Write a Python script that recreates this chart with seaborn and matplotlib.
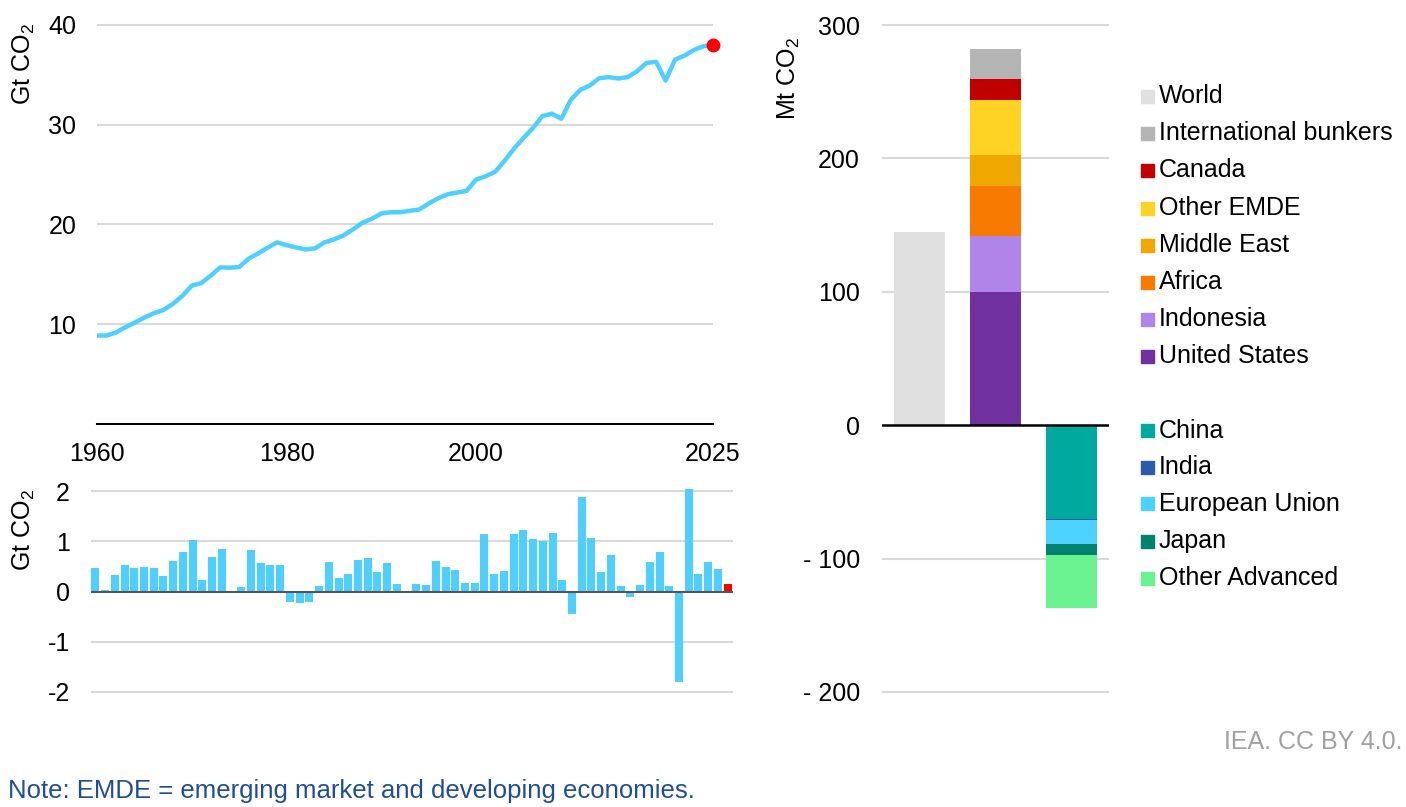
import matplotlib
matplotlib.use("Agg")
import matplotlib.pyplot as plt
import seaborn as sns
import pandas as pd
from matplotlib.patches import Rectangle

# ---------------- data ----------------
years = list(range(1960, 2026))
emissions = [8.87, 8.87, 9.17, 9.70, 10.17, 10.67, 11.10, 11.43, 12.03, 12.83,
             13.87, 14.13, 14.87, 15.70, 15.67, 15.73, 16.57, 17.10, 17.67, 18.20,
             17.93, 17.70, 17.50, 17.60, 18.20, 18.50, 18.90, 19.50, 20.17, 20.57,
             21.10, 21.23, 21.23, 21.37, 21.50, 22.10, 22.63, 23.03, 23.20, 23.37,
             24.50, 24.83, 25.27, 26.37, 27.60, 28.67, 29.67, 30.87, 31.10, 30.60,
             32.50, 33.50, 33.93, 34.67, 34.77, 34.63, 34.77, 35.37, 36.20, 36.30,
             34.43, 36.53, 36.93, 37.50, 37.87, 38.00]
changes = [0.47, 0.03, 0.33, 0.53, 0.46, 0.48, 0.47, 0.30, 0.61, 0.79,
           1.02, 0.23, 0.68, 0.84, -0.01, 0.08, 0.82, 0.56, 0.53, 0.53,
           -0.20, -0.23, -0.20, 0.11, 0.58, 0.27, 0.34, 0.63, 0.67, 0.38,
           0.57, 0.14, -0.01, 0.14, 0.13, 0.61, 0.48, 0.43, 0.16, 0.17,
           1.14, 0.35, 0.40, 1.14, 1.23, 1.04, 1.00, 1.16, 0.22, -0.44,
           1.88, 1.06, 0.38, 0.72, 0.11, -0.11, 0.13, 0.59, 0.79, 0.10,
           -1.80, 2.05, 0.34, 0.58, 0.44, 0.15]
x_tick_years = [1960, 1980, 2000, 2025]

world_change = 145
increase_regions = ["United States", "Indonesia", "Africa", "Middle East",
                    "Other EMDE", "Canada", "International bunkers"]
increase_values = [100, 42, 37.5, 23, 41.5, 15.25, 23]
decrease_regions = ["China", "India", "European Union", "Japan", "Other Advanced"]
decrease_values = [-70.3, -0.5, -18.5, -7.7, -40]
legend_order = ["World", "International bunkers", "Canada", "Other EMDE",
                "Middle East", "Africa", "Indonesia", "United States", None,
                "China", "India", "European Union", "Japan", "Other Advanced"]
right_ticks = [300, 200, 100, 0, -100, -200]
right_ticklabels = ["300", "200", "100", "0", "- 100", "- 200"]

colors = {
    "World": "#e0e0e0", "International bunkers": "#b4b4b4", "Canada": "#c00000",
    "Other EMDE": "#ffd324", "Middle East": "#f0a800", "Africa": "#f77b00",
    "Indonesia": "#b085ea", "United States": "#7030a0", "China": "#00a99d",
    "India": "#2a5caa", "European Union": "#4bd2ff", "Japan": "#00826f",
    "Other Advanced": "#6af290",
}
LINE = "#4dd0ff"
GRID = "#d9d9d9"

# ---------------- style ----------------
sns.set_theme(style="white")
plt.rcParams["font.family"] = ["Liberation Sans", "DejaVu Sans"]
plt.rcParams["mathtext.fontset"] = "custom"
plt.rcParams["mathtext.rm"] = "Liberation Sans"
plt.rcParams["mathtext.default"] = "regular"
plt.rcParams["axes.unicode_minus"] = False
plt.rcParams["text.color"] = "black"
FS = 18

W, H = 1406, 807
fig = plt.figure(figsize=(W / 100, H / 100), dpi=100)


def axes_px(x0, x1, ytop, ybot):
    return fig.add_axes([x0 / W, 1 - ybot / H, (x1 - x0) / W, (ybot - ytop) / H])


def clean(ax):
    for s in ax.spines.values():
        s.set_visible(False)
    ax.tick_params(length=0, labelsize=FS, colors="black")


# ---------------- top-left line ----------------
ax1 = axes_px(97, 713, 10, 424)
df_line = pd.DataFrame({"year": years, "emissions": emissions})
for v in [10, 20, 30, 40]:
    ax1.axhline(v, color=GRID, lw=1.5, zorder=0)
sns.lineplot(data=df_line, x="year", y="emissions", ax=ax1, color=LINE, lw=3.2, zorder=3)
ax1.plot([years[-1]], [emissions[-1]], "o", color="#ff0000", ms=9, zorder=4, clip_on=False)
ax1.set_xlim(1960, 2025)
ax1.set_ylim(0, 41.5)
clean(ax1)
ax1.spines["bottom"].set_visible(True)
ax1.spines["bottom"].set_color("black")
ax1.spines["bottom"].set_linewidth(1.5)
ax1.set_yticks([10, 20, 30, 40])
ax1.set_xticks(x_tick_years)
ax1.tick_params(axis="y", pad=15)
ax1.tick_params(axis="x", pad=13)
ax1.set_xlabel("")
ax1.set_ylabel("")
fig.text(24 / W, 1 - 64 / H, "Gt CO$_2$", rotation=90, ha="center", va="center", fontsize=FS)

# ---------------- bottom-left bars ----------------
ax2 = axes_px(90.5, 732.5, 483.5, 694.5)
df_bar = pd.DataFrame({"year": years, "change": changes})
bar_pal = {y: (LINE if y != years[-1] else "#ff0000") for y in years}
for v in [-2, -1, 1, 2]:
    ax2.axhline(v, color=GRID, lw=1.5, zorder=0)
sns.barplot(data=df_bar, x="year", y="change", hue="year", palette=bar_pal,
            legend=False, dodge=False, width=0.82, ax=ax2, zorder=2, saturation=1,
            linewidth=0)
ax2.axhline(0, color="#555555", lw=1.5, zorder=5)
ax2.set_xlim(-0.5, len(years) - 0.5)
ax2.set_ylim(-2.05, 2.15)
clean(ax2)
ax2.set_xticks([])
ax2.set_yticks([-2, -1, 0, 1, 2])
ax2.tick_params(axis="y", pad=15)
ax2.set_xlabel("")
ax2.set_ylabel("")
fig.text(24 / W, 1 - 530 / H, "Gt CO$_2$", rotation=90, ha="center", va="center", fontsize=FS)

# ---------------- right stacked bars ----------------
ax3 = axes_px(882, 1109, 11.7, 705.3)
for v in [-200, -100, 100, 200, 300]:
    ax3.axhline(v, color=GRID, lw=1.5, zorder=0)
bw = 0.675
ax3.bar(0, world_change, width=bw, color=colors["World"], zorder=2, linewidth=0)
bottom = 0
for r, v in zip(increase_regions, increase_values):
    ax3.bar(1, v, bottom=bottom, width=bw, color=colors[r], zorder=2, linewidth=0)
    bottom += v
bottom = 0
for r, v in zip(decrease_regions, decrease_values):
    ax3.bar(2, v, bottom=bottom, width=bw, color=colors[r], zorder=2, linewidth=0)
    bottom += v
ax3.axhline(0, color="black", lw=1.8, zorder=5)
ax3.set_xlim(-0.5, 2.5)
ax3.set_ylim(-210, 310)
clean(ax3)
ax3.set_xticks([])
ax3.set_yticks(right_ticks)
ax3.set_yticklabels(right_ticklabels)
ax3.tick_params(axis="y", pad=16)
fig.text(789 / W, 1 - 78 / H, "Mt CO$_2$", rotation=90, ha="center", va="center", fontsize=FS)

# ---------------- legend ----------------
row_y = [96, 133, 170, 208, 245, 282, 319, 356, None, 431, 467, 504, 541, 578]
for name, yc in zip(legend_order, row_y):
    if name is None:
        continue
    fig.patches.append(Rectangle((1141 / W, 1 - (yc + 6.5) / H), 13 / W, 13 / H,
                                 transform=fig.transFigure, color=colors[name]))
    fig.text(1159 / W, 1 - yc / H, name, ha="left", va="center", fontsize=FS,
             color="black")

# ---------------- notes ----------------
fig.text(8 / W, 1 - 791 / H, "Note: EMDE = emerging market and developing economies.",
         ha="left", va="center", fontsize=18.5, color="#1f4e96")
fig.text(1403 / W, 1 - 742 / H, "IEA. CC BY 4.0.", ha="right", va="center",
         fontsize=FS, color="#a0a0a0")

fig.savefig("out.png", dpi=100)
